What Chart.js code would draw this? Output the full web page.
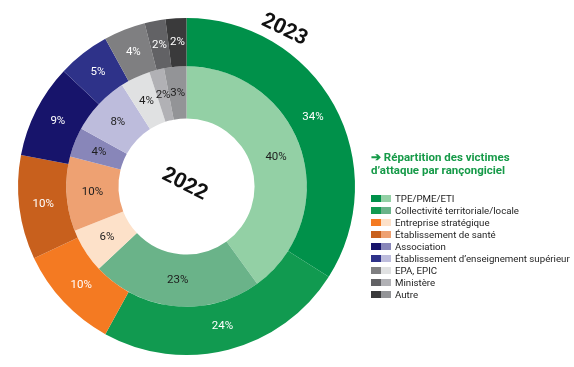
<!DOCTYPE html>
<html lang="fr">
<head>
<meta charset="utf-8">
<title>Répartition des victimes d'attaque par rançongiciel</title>
<script src="https://cdn.jsdelivr.net/npm/chart.js@4.4.1/dist/chart.umd.min.js"></script>
<style>
    html, body { margin: 0; padding: 0; background: #fff; }
    body { width: 574px; height: 367px; position: relative; overflow: hidden; font-family: Roboto, "Open Sans", sans-serif; }
    #chart { position: absolute; left: 0; top: 0; }
    .title { position: absolute; left: 371px; top: 151px; color: #169a48; font-weight: 700; font-size: 11.5px; line-height: 12.5px; }
    .legend { position: absolute; left: 371px; top: 192px; font-size: 9.7px; color: #1e1e1e; }
    .legend .row { display: flex; align-items: center; height: 12.1px; white-space: nowrap; }
    .legend .sw { width: 10px; height: 7px; }
    .legend .txt { margin-left: 4px; }
</style>
</head>
<body>
<canvas id="chart" width="574" height="367"></canvas>
<div class="title">➔ Répartition des victimes<br>d’attaque par rançongiciel</div>
<div class="legend" id="legend"></div>
<script>
    "use strict";

    const categories = [
        "TPE/PME/ETI",
        "Collectivité territoriale/locale",
        "Entreprise stratégique",
        "Établissement de santé",
        "Association",
        "Établissement d’enseignement supérieur",
        "EPA, EPIC",
        "Ministère",
        "Autre",
    ];
    const years = ["2023", "2022"];
    const values2023 = [34, 24, 10, 10, 9, 5, 4, 2, 2];
    const values2022 = [40, 23, 6, 10, 4, 8, 4, 2, 3];

    const colors2023 = [
        "#00914a", "#119a50", "#f47a22", "#c8601d", "#17146b",
        "#2e3289", "#7f7f81", "#626265", "#3a3a3b",
    ];
    const colors2022 = [
        "#93d0a5", "#6ab389", "#fde1c9", "#eea172", "#8886b9",
        "#bdbcdc", "#e0e1e2", "#b1b1b5", "#939497",
    ];

    // Percent labels inside each slice + rotated year labels
    const sliceLabels = {
        id: "sliceLabels",
        afterDatasetsDraw(chart) {
            const ctx = chart.ctx;
            ctx.save();
            ctx.textAlign = "center";
            ctx.textBaseline = "middle";
            ctx.font = '11.5px Roboto, sans-serif';
            chart.data.datasets.forEach((ds, i) => {
                const meta = chart.getDatasetMeta(i);
                ctx.fillStyle = i === 0 ? "#ffffff" : "#1e1e1e";
                meta.data.forEach((arc, j) => {
                    const p = arc.getCenterPoint();
                    ctx.fillText(ds.data[j] + "%", p.x, p.y);
                });
            });

            const outer = chart.getDatasetMeta(0).data[0];
            const cx = outer.x, cy = outer.y;
            ctx.fillStyle = "#111111";
            ctx.font = 'bold 21px Roboto, sans-serif';

            ctx.save();
            ctx.translate(cx - 2, cy - 2);
            ctx.rotate(27 * Math.PI / 180);
            ctx.fillText(years[1], 0, 0);
            ctx.restore();

            const a = 32 * Math.PI / 180;
            const r = outer.outerRadius + 16;
            ctx.save();
            ctx.translate(cx + r * Math.sin(a), cy - r * Math.cos(a));
            ctx.rotate(26 * Math.PI / 180);
            ctx.fillText(years[0], 0, 0);
            ctx.restore();
            ctx.restore();
        },
    };

    new Chart(document.getElementById("chart").getContext("2d"), {
        type: "doughnut",
        data: {
            labels: categories,
            datasets: [
                {
                    label: years[0],
                    data: values2023,
                    backgroundColor: colors2023,
                    borderWidth: 0,
                    weight: 48,
                },
                {
                    label: years[1],
                    data: values2022,
                    backgroundColor: colors2022,
                    borderWidth: 0,
                    weight: 52,
                },
            ],
        },
        options: {
            responsive: false,
            animation: false,
            cutout: "40.4%",
            layout: { padding: { left: 18, right: 219, top: 18, bottom: 12 } },
            plugins: {
                legend: { display: false },
                tooltip: { enabled: false },
            },
        },
        plugins: [sliceLabels],
    });

    // Legend with the two year swatches side by side
    const legendEl = document.getElementById("legend");
    categories.forEach((name, i) => {
        const row = document.createElement("div");
        row.className = "row";
        row.innerHTML =
            '<span class="sw" style="background:' + colors2023[i] + '"></span>' +
            '<span class="sw" style="background:' + colors2022[i] + '"></span>' +
            '<span class="txt">' + name + "</span>";
        legendEl.appendChild(row);
    });
</script>
</body>
</html>
